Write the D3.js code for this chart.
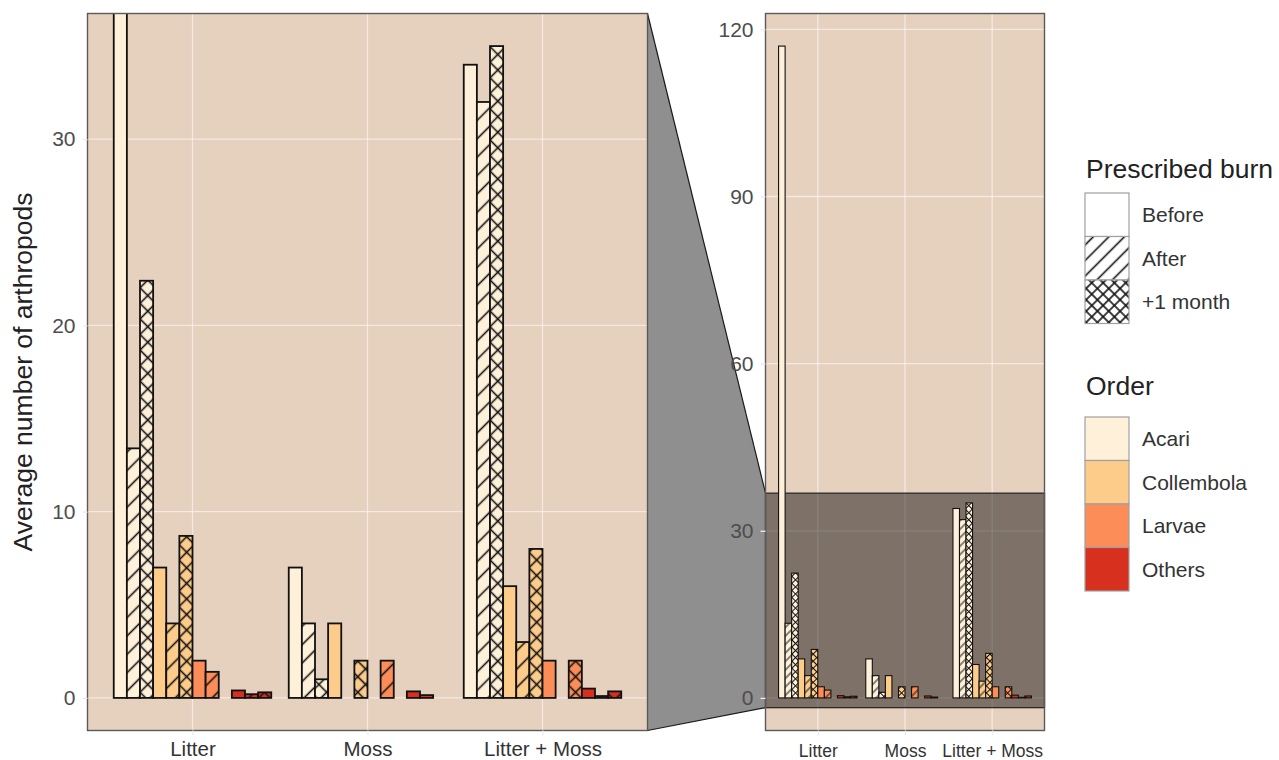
<!DOCTYPE html>
<html>
<head>
<meta charset="utf-8">
<script src="https://cdn.jsdelivr.net/npm/d3@7"></script>
<style>
  html, body { margin: 0; padding: 0; background: #ffffff; }
  svg { display: block; font-family: "Liberation Sans", Arial, Helvetica, sans-serif; }
</style>
</head>
<body>
<svg id="chart" width="1279" height="760"></svg>
<script>
// ---------------- DATA ----------------
const categories = ["Litter", "Moss", "Litter + Moss"];
const orders = ["Acari", "Collembola", "Larvae", "Others"];
const burns = ["Before", "After", "+1 month"];
const orderColors = ["#FEF0D9", "#FDCC8A", "#FC8D59", "#D7301F"];
// values listed order by order, each with Before / After / +1 month
const litterValues     = [117, 13.4, 22.4,  7.0, 4.0, 8.7,  2.0, 1.4, 0,    0.4, 0.2, 0.3];
const mossValues       = [7.0, 4.0, 1.0,    4.0, 0, 2.0,    0, 2.0, 0,      0.35, 0.15, 0];
const litterMossValues = [34, 32, 35,       6.0, 3.0, 8.0,  2.0, 0, 2.0,    0.5, 0.1, 0.35];
const zoomTicks = [0, 10, 20, 30];
const fullTicks = [0, 30, 60, 90, 120];
const zoomLimits = [0, 35];
const yTitle = "Average number of arthropods";

// ---------------- LAYOUT ----------------
const svg = d3.select("#chart");
const L = { x0: 87.5, x1: 647.5, y0: 13.5, y1: 730.5 };
const R = { x0: 765.5, x1: 1044.5, y0: 13.5, y1: 730.5 };
const panelBg = "#E6D0BE";
const tickColor = "#4D4D4D";

const allValues = [litterValues, mossValues, litterMossValues];
const rows = [];
categories.forEach((c, ci) => {
  allValues[ci].forEach((v, k) => {
    rows.push({ cat: c, order: orders[Math.floor(k / 3)], oi: Math.floor(k / 3), burn: burns[k % 3], bi: k % 3, k, value: v });
  });
});
const maxVal = d3.max(rows, d => d.value);

function expand(lo, hi) { const p = (hi - lo) * 0.05; return [lo - p, hi + p]; }
const zoomDom = expand(zoomLimits[0], zoomLimits[1]);
const fullDom = expand(0, maxVal);

const yL = d3.scaleLinear().domain(zoomDom).range([L.y1, L.y0]);
const yR = d3.scaleLinear().domain(fullDom).range([R.y1, R.y0]);
const xL = d3.scalePoint().domain(categories).range([L.x0, L.x1]).padding(0.6);
const xR = d3.scalePoint().domain(categories).range([R.x0, R.x1]).padding(0.6);

// ---------------- PATTERNS ----------------
const defs = svg.append("defs");
function makePatterns(prefix, stripeGap, crossGap, lw) {
  orderColors.concat(["#FFFFFF"]).forEach((col, oi) => {
    const ps = defs.append("pattern").attr("id", `${prefix}-s-${oi}`)
      .attr("patternUnits", "userSpaceOnUse").attr("width", stripeGap).attr("height", stripeGap)
      .attr("patternTransform", "rotate(45)");
    ps.append("rect").attr("width", stripeGap).attr("height", stripeGap).attr("fill", col);
    ps.append("line").attr("x1", stripeGap / 2).attr("x2", stripeGap / 2).attr("y1", 0).attr("y2", stripeGap)
      .attr("stroke", "#111").attr("stroke-width", lw);
    const pc = defs.append("pattern").attr("id", `${prefix}-c-${oi}`)
      .attr("patternUnits", "userSpaceOnUse").attr("width", crossGap).attr("height", crossGap)
      .attr("patternTransform", "rotate(45)");
    pc.append("rect").attr("width", crossGap).attr("height", crossGap).attr("fill", col);
    pc.append("line").attr("x1", crossGap / 2).attr("x2", crossGap / 2).attr("y1", 0).attr("y2", crossGap)
      .attr("stroke", "#111").attr("stroke-width", lw);
    pc.append("line").attr("y1", crossGap / 2).attr("y2", crossGap / 2).attr("x1", 0).attr("x2", crossGap)
      .attr("stroke", "#111").attr("stroke-width", lw);
  });
}
makePatterns("pl", 13, 11, 1.6);
makePatterns("pr", 6, 5, 1);
makePatterns("pg", 11, 8, 1.6);
function fillFor(prefix, oi, bi) {
  if (bi === 0) return oi < 4 ? orderColors[oi] : "#FFFFFF";
  return `url(#${prefix}-${bi === 1 ? "s" : "c"}-${oi})`;
}

defs.append("clipPath").attr("id", "clipL").append("rect")
  .attr("x", L.x0).attr("y", L.y0).attr("width", L.x1 - L.x0).attr("height", L.y1 - L.y0);
defs.append("clipPath").attr("id", "clipR").append("rect")
  .attr("x", R.x0).attr("y", R.y0).attr("width", R.x1 - R.x0).attr("height", R.y1 - R.y0);

// ---------------- CONNECTOR ----------------
const zTop = yR(zoomDom[1]), zBot = yR(zoomDom[0]);
svg.append("path")
  .attr("d", `M${L.x1},${L.y0} L${R.x0},${zTop} L${R.x0},${zBot} L${L.x1},${L.y1} Z`)
  .attr("fill", "#8F8F8F");
svg.append("line").attr("x1", L.x1).attr("y1", L.y0).attr("x2", R.x0).attr("y2", zTop)
  .attr("stroke", "#1a1a1a").attr("stroke-width", 1.2);
svg.append("line").attr("x1", L.x1).attr("y1", L.y1).attr("x2", R.x0).attr("y2", zBot)
  .attr("stroke", "#1a1a1a").attr("stroke-width", 1.2);

// ---------------- PANELS ----------------
function drawPanel(P, x, y, ticks, prefix, clipId, isFull, xFont, xPad) {
  const g = svg.append("g");
  g.append("rect").attr("x", P.x0).attr("y", P.y0).attr("width", P.x1 - P.x0).attr("height", P.y1 - P.y0)
    .attr("fill", panelBg);
  const grid = g.append("g").attr("clip-path", `url(#${clipId})`);
  grid.selectAll(".hg").data(ticks).join("line")
    .attr("x1", P.x0).attr("x2", P.x1).attr("y1", d => y(d)).attr("y2", d => y(d))
    .attr("stroke", "#FFFFFF").attr("stroke-opacity", 0.55).attr("stroke-width", 1.3);
  grid.selectAll(".vg").data(categories).join("line")
    .attr("x1", d => x(d)).attr("x2", d => x(d)).attr("y1", P.y0).attr("y2", P.y1)
    .attr("stroke", "#FFFFFF").attr("stroke-opacity", 0.55).attr("stroke-width", 1.3);

  if (isFull) {
    g.append("rect").attr("x", P.x0).attr("y", zTop).attr("width", P.x1 - P.x0).attr("height", zBot - zTop)
      .attr("fill", "#000000").attr("fill-opacity", 0.45)
      .attr("stroke", "#2a2a2a").attr("stroke-width", 1.3);
  }

  const step = x.step();
  const inner = d3.scaleBand().domain(d3.range(12)).range([-0.45 * step, 0.45 * step]).padding(0);
  g.append("g").attr("clip-path", `url(#${clipId})`)
    .selectAll("rect").data(rows).join("rect")
    .attr("x", d => x(d.cat) + inner(d.k))
    .attr("width", inner.bandwidth())
    .attr("y", d => y(Math.max(d.value, 0)))
    .attr("height", d => Math.abs(y(0) - y(d.value)))
    .attr("fill", d => fillFor(prefix, d.oi, d.bi))
    .attr("stroke", "#111").attr("stroke-width", isFull ? 1.1 : 1.8);

  g.append("rect").attr("x", P.x0).attr("y", P.y0).attr("width", P.x1 - P.x0).attr("height", P.y1 - P.y0)
    .attr("fill", "none").attr("stroke", "#5a5a5a").attr("stroke-width", 1.4);

  // y axis
  const ya = svg.append("g").attr("transform", `translate(${P.x0},0)`)
    .call(d3.axisLeft(y).tickValues(ticks).tickSize(5).tickPadding(7).tickFormat(d3.format("d")));
  ya.select(".domain").remove();
  ya.selectAll(".tick line").attr("stroke", "#EDEDED").attr("stroke-width", 1.3);
  ya.selectAll(".tick text").attr("fill", tickColor).style("font-size", "21px")
    .style("font-family", "'Liberation Sans', Arial, sans-serif");

  // x axis
  const xa = svg.append("g").attr("transform", `translate(0,${P.y1})`)
    .call(d3.axisBottom(x).tickSize(5).tickPadding(xPad));
  xa.select(".domain").remove();
  xa.selectAll(".tick line").attr("stroke", "#EDEDED").attr("stroke-width", 1.3);
  xa.selectAll(".tick text").attr("fill", "#333").style("font-size", xFont + "px")
    .style("font-family", "'Liberation Sans', Arial, sans-serif");
}
drawPanel(L, xL, yL, zoomTicks, "pl", "clipL", false, 20.5, 6);
drawPanel(R, xR, yR, fullTicks, "pr", "clipR", true, 17.5, 9);

// y title
svg.append("text")
  .attr("transform", `translate(32,${(L.y0 + L.y1) / 2}) rotate(-90)`)
  .attr("text-anchor", "middle").attr("fill", "#222").style("font-size", "26.5px")
  .text(yTitle);

// ---------------- LEGENDS ----------------
const lg = svg.append("g");
const keyX = 1085, keyW = 44, keyH = 43.5;
lg.append("text").attr("x", 1086).attr("y", 178).attr("fill", "#222").style("font-size", "26.5px").text("Prescribed burn");
burns.forEach((b, i) => {
  const yy = 193 + i * keyH;
  lg.append("rect").attr("x", keyX).attr("y", yy).attr("width", keyW).attr("height", keyH)
    .attr("fill", fillFor("pg", 4, i)).attr("stroke", "#A0A0A0").attr("stroke-width", 1.2);
  lg.append("text").attr("x", 1142).attr("y", yy + keyH / 2 + 7.5).attr("fill", "#333").style("font-size", "21px").text(b);
});
lg.append("text").attr("x", 1086).attr("y", 395).attr("fill", "#222").style("font-size", "26.5px").text("Order");
orders.forEach((o, i) => {
  const yy = 417 + i * keyH;
  lg.append("rect").attr("x", keyX).attr("y", yy).attr("width", keyW).attr("height", keyH)
    .attr("fill", orderColors[i]).attr("stroke", "#A0A0A0").attr("stroke-width", 1.2);
  lg.append("text").attr("x", 1142).attr("y", yy + keyH / 2 + 7.5).attr("fill", "#333").style("font-size", "21px").text(o);
});
</script>
</body>
</html>
